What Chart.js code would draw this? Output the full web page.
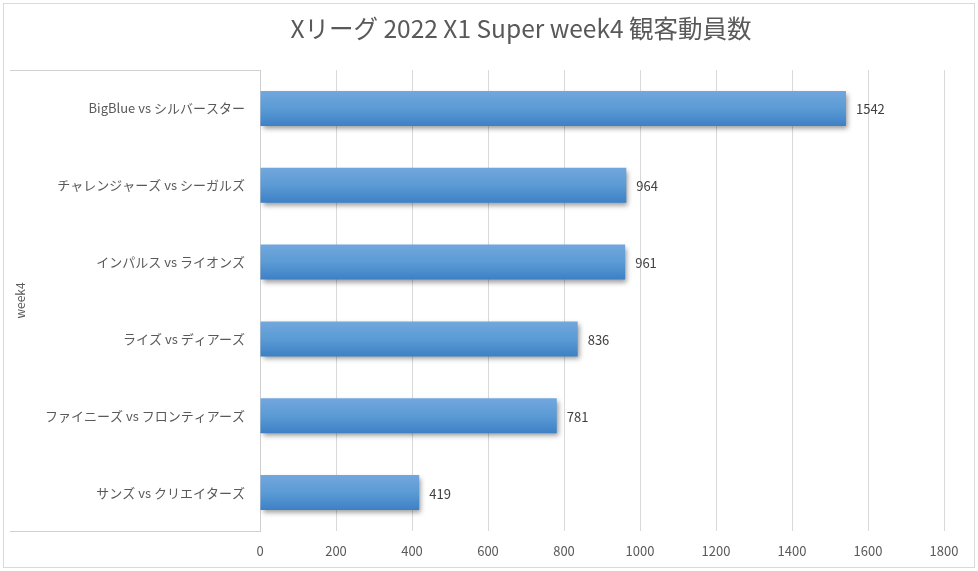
<!DOCTYPE html>
<html lang="ja">
<head>
<meta charset="utf-8">
<title>Xリーグ 2022 X1 Super week4 観客動員数</title>
<script src="https://cdn.jsdelivr.net/npm/chart.js@4.4.1/dist/chart.umd.min.js"></script>
<style>
  html, body { margin: 0; padding: 0; background: #fff; }
  #wrap { width: 978px; height: 571px; position: relative; }
</style>
</head>
<body>
<div id="wrap"><canvas id="chart" width="978" height="571"></canvas></div>
<script>
// データ
const categories = [
  'BigBlue vs シルバースター',
  'チャレンジャーズ vs シーガルズ',
  'インパルス vs ライオンズ',
  'ライズ vs ディアーズ',
  'ファイニーズ vs フロンティアーズ',
  'サンズ vs クリエイターズ'
];
const attendance = [1542, 964, 961, 836, 781, 419];
const groupLabel = 'week4';
const chartTitle = 'Xリーグ 2022 X1 Super week4 観客動員数';
const xTicks = [0, 200, 400, 600, 800, 1000, 1200, 1400, 1600, 1800];

const FONT = "'Noto Sans CJK JP', 'Noto Sans', sans-serif";
const BAR_PCT = 0.455;

// 外枠・タイトル・区切り線
const framePlugin = {
  id: 'frame',
  beforeDraw(chart) {
    const { ctx, chartArea } = chart;
    ctx.save();
    ctx.strokeStyle = '#d9d9d9';
    ctx.lineWidth = 1;
    ctx.strokeRect(3.5, 3.5, 971, 564);
    // 多階層ラベルの上下の線
    ctx.strokeStyle = '#d0d0d0';
    ctx.beginPath();
    ctx.moveTo(10, Math.round(chartArea.top) + 0.5);
    ctx.lineTo(chartArea.left, Math.round(chartArea.top) + 0.5);
    ctx.moveTo(10, Math.round(chartArea.bottom) + 0.5);
    ctx.lineTo(chartArea.left, Math.round(chartArea.bottom) + 0.5);
    ctx.stroke();
    // タイトル
    ctx.fillStyle = '#595959';
    ctx.font = '24.5px ' + FONT;
    ctx.textAlign = 'center';
    ctx.textBaseline = 'middle';
    ctx.fillText(chartTitle, 521, 29);
    ctx.restore();
  }
};

// 棒の影
const shadowPlugin = {
  id: 'barShadow',
  beforeDatasetsDraw(chart) {
    const ctx = chart.ctx;
    ctx.save();
    ctx.shadowColor = 'rgba(0,0,0,0.4)';
    ctx.shadowBlur = 5;
    ctx.shadowOffsetX = 2;
    ctx.shadowOffsetY = 3;
  },
  afterDatasetsDraw(chart) {
    chart.ctx.restore();
  }
};

// データラベル
const valueLabels = {
  id: 'valueLabels',
  afterDatasetsDraw(chart) {
    const { ctx } = chart;
    const meta = chart.getDatasetMeta(0);
    ctx.save();
    ctx.fillStyle = '#404040';
    ctx.font = '13px ' + FONT;
    ctx.textAlign = 'left';
    ctx.textBaseline = 'middle';
    meta.data.forEach((bar, i) => {
      ctx.fillText(String(attendance[i]), bar.x + 10, bar.y + 1);
    });
    ctx.restore();
  }
};

new Chart(document.getElementById('chart'), {
  type: 'bar',
  data: {
    labels: categories,
    datasets: [{
      data: attendance,
      backgroundColor: (c) => {
        const chart = c.chart;
        const ys = chart.scales.y;
        if (!ys || !chart.chartArea || c.dataIndex === undefined) return '#5b9bd5';
        const yc = ys.getPixelForValue(c.dataIndex);
        const half = (chart.chartArea.height / categories.length) * BAR_PCT / 2;
        const g = chart.ctx.createLinearGradient(0, yc - half, 0, yc + half);
        g.addColorStop(0, '#72a7dd');
        g.addColorStop(0.5, '#5b9bd5');
        g.addColorStop(1, '#3d80c5');
        return g;
      },
      borderWidth: 0,
      barPercentage: BAR_PCT,
      categoryPercentage: 1
    }]
  },
  options: {
    indexAxis: 'y',
    responsive: false,
    animation: false,
    layout: { padding: { left: 10, top: 70, right: 34, bottom: 0 } },
    plugins: {
      legend: { display: false },
      title: { display: false },
      tooltip: { enabled: false }
    },
    scales: {
      x: {
        min: 0,
        max: 1800,
        afterBuildTicks: (s) => { s.ticks = xTicks.map(v => ({ value: v })); },
        afterFit: (s) => { s.height = 40; },
        grid: { color: '#d9d9d9', drawTicks: false },
        border: { display: false },
        ticks: {
          color: '#595959',
          font: { family: FONT, size: 13 },
          padding: 12,
          callback: (v) => String(v)
        }
      },
      y: {
        afterFit: (s) => { s.width = 250; },
        grid: { display: false, drawTicks: false },
        border: { display: true, color: '#d0d0d0' },
        ticks: { color: '#595959', font: { family: FONT, size: 13 }, padding: 15 },
        title: {
          display: true,
          text: groupLabel,
          color: '#595959',
          font: { family: FONT, size: 12 },
          padding: { top: 3, bottom: 0 }
        }
      }
    }
  },
  plugins: [framePlugin, shadowPlugin, valueLabels]
});
</script>
</body>
</html>
